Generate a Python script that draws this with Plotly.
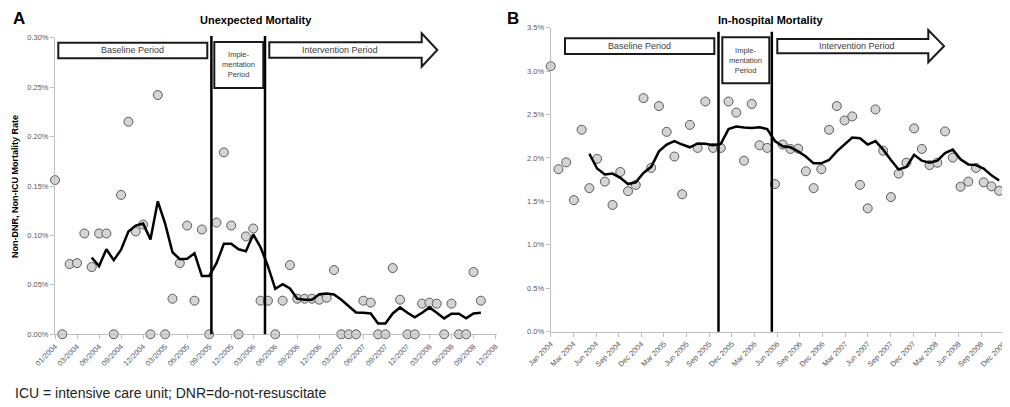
import plotly.graph_objects as go

# page is rendered with an 8px body margin; work in page pixels and shift
OFF = 8
W, H = 1010 - OFF, 407 - OFF

# ---------------- data ----------------
# Panel A: Unexpected mortality (%), monthly
rate_A = [0.156, 0, 0.071, 0.072, 0.102, 0.068, 0.102, 0.102, 0, 0.141,
          0.215, 0.104, 0.111, 0, 0.242, 0, 0.036, 0.072, 0.110, 0.034,
          0.106, 0, 0.113, 0.184, 0.110, 0, 0.099, 0.107, 0.034, 0.034,
          0, 0.034, 0.070, 0.036, 0.036, 0.036, 0.035, 0.037, 0.065, 0,
          0, 0, 0.034, 0.032, 0, 0, 0.067, 0.035, 0, 0,
          0.031, 0.032, 0.031, 0, 0.031, 0, 0, 0.063, 0.034]
ma_start_A = 5
ma_A = [0.0775, 0.069, 0.086, 0.075, 0.0855, 0.104, 0.110, 0.112, 0.096, 0.1345,
        0.112, 0.083, 0.076, 0.0765, 0.082, 0.059, 0.059, 0.072, 0.0915, 0.0915,
        0.086, 0.084, 0.101, 0.088, 0.069, 0.046, 0.0507, 0.0463, 0.036, 0.035,
        0.035, 0.0406, 0.0413, 0.0403, 0.035, 0.0288, 0.022, 0.0218, 0.0211, 0.011,
        0.011, 0.0211, 0.0272, 0.0218, 0.0171, 0.0218, 0.0272, 0.0218, 0.0161, 0.0208,
        0.0208, 0.0161, 0.0211, 0.0218]
ticks_A = ["01/2004", "03/2004", "06/2004", "09/2004", "12/2004", "03/2005", "06/2005",
           "09/2005", "12/2005", "03/2006", "06/2006", "09/2006", "12/2006", "03/2007",
           "06/2007", "09/2007", "12/2007", "03/2008", "06/2008", "09/2008", "12/2008"]
bounds_A = [21.3, 28.6]

# Panel B: In-hospital mortality (%), monthly
rate_B = [3.057, 1.871, 1.95, 1.515, 2.325, 1.653, 1.99, 1.728, 1.459, 1.839,
          1.618, 1.69, 2.689, 1.886, 2.598, 2.301, 2.017, 1.582, 2.381, 2.116,
          2.65, 2.116, 2.116, 2.65, 2.523, 1.969, 2.622, 2.147, 2.116, 1.70,
          2.155, 2.104, 2.108, 1.847, 1.653, 1.871, 2.325, 2.598, 2.432, 2.479,
          1.69, 1.42, 2.559, 2.084, 1.55, 1.82, 1.945, 2.341, 2.104, 1.918,
          1.945, 2.306, 2.005, 1.669, 1.728, 1.886, 1.72, 1.673, 1.622]
ma_start_B = 5
ma_B = [2.049, 1.879, 1.811, 1.82, 1.772, 1.70, 1.72, 1.827, 1.898, 2.076,
        2.155, 2.195, 2.155, 2.123, 2.167, 2.163, 2.147, 2.163, 2.333, 2.361,
        2.35, 2.345, 2.353, 2.333, 2.195, 2.135, 2.123, 2.076, 2.017, 1.938,
        1.938, 1.977, 2.076, 2.155, 2.235, 2.227, 2.155, 2.195, 2.096, 1.977,
        1.867, 1.898, 2.037, 1.969, 1.945, 1.969, 2.057, 2.096, 1.985, 1.926,
        1.918, 1.879, 1.80, 1.74]
ticks_B = ["Jan 2004", "Mar 2004", "Jun 2004", "Sep 2004", "Dec 2004", "Mar 2005", "Jun 2005",
           "Sep 2005", "Dec 2005", "Mar 2006", "Jun 2006", "Sep 2006", "Dec 2006", "Mar 2007",
           "Jun 2007", "Sep 2007", "Dec 2007", "Mar 2008", "Jun 2008", "Sep 2008", "Dec 2008"]
bounds_B = [21.7, 28.6]

# ---------------- helpers ----------------
def px(x):
    return (x - OFF) / W

def py(y):
    return 1 - (y - OFF) / H

FONT = "Liberation Sans"
AX_GRAY = "#bfbfbf"
TICK_FONT = dict(family=FONT, size=7.5, color="#595959")
marker = dict(size=9, color="#d4d4d4", line=dict(color="#5a5a5a", width=1))
line_style = dict(color="black", width=2.5)

fig = go.Figure()

xa = list(range(len(rate_A)))
xb = list(range(len(rate_B)))

fig.add_trace(go.Scatter(x=xa, y=rate_A, mode="markers", marker=marker,
                         cliponaxis=False, xaxis="x", yaxis="y", showlegend=False))
fig.add_trace(go.Scatter(x=list(range(ma_start_A, ma_start_A + len(ma_A))), y=ma_A,
                         mode="lines", line=line_style, xaxis="x", yaxis="y", showlegend=False))
fig.add_trace(go.Scatter(x=xb, y=rate_B, mode="markers", marker=marker,
                         cliponaxis=False, xaxis="x2", yaxis="y2", showlegend=False))
fig.add_trace(go.Scatter(x=list(range(ma_start_B, ma_start_B + len(ma_B))), y=ma_B,
                         mode="lines", line=line_style, xaxis="x2", yaxis="y2", showlegend=False))

common_x = dict(showline=True, linecolor=AX_GRAY, linewidth=1, ticks="outside", ticklen=4,
                tickcolor=AX_GRAY, showgrid=False, zeroline=False, tickangle=-45,
                tickfont=TICK_FONT, tickmode="array", automargin=False,
                ticklabeloverflow="allow")
common_y = dict(showline=True, linecolor=AX_GRAY, linewidth=1, ticks="outside", ticklen=4,
                tickcolor=AX_GRAY, showgrid=False, zeroline=False, tickfont=TICK_FONT,
                ticksuffix="%", automargin=False)

step_A = 3
step_B = 2.93
fig.update_layout(
    width=W, height=H, margin=dict(l=0, r=0, t=0, b=0, pad=0),
    paper_bgcolor="white", plot_bgcolor="white",
    xaxis=dict(common_x, domain=[px(55), px(497)], range=[0, 60.2],
               tickvals=[i * step_A for i in range(len(ticks_A))], ticktext=ticks_A,
               anchor="y"),
    yaxis=dict(common_y, domain=[py(334.3), py(37.7)], range=[0, 0.30], dtick=0.05,
               tickformat=".2f", anchor="x"),
    xaxis2=dict(common_x, domain=[px(550.7), 1.0], range=[0, 59.4],
                tickvals=[i * step_B for i in range(len(ticks_B))], ticktext=ticks_B,
                anchor="y2"),
    yaxis2=dict(common_y, domain=[py(331.7), py(27.7)], range=[0, 3.5], dtick=0.5,
                tickformat=".1f", anchor="x2"),
)

shapes = []
annots = []

# period boundary lines
for b in bounds_A:
    shapes.append(dict(type="line", xref="x", yref="paper", x0=b, x1=b,
                       y0=py(334.3), y1=py(36), line=dict(color="black", width=2.5)))
for b in bounds_B:
    shapes.append(dict(type="line", xref="x2", yref="paper", x0=b, x1=b,
                       y0=py(331.7), y1=py(31.7), line=dict(color="black", width=2.5)))

box_line = dict(color="#1a1a1a", width=2)

def box(x0, y0, x1, y1):
    shapes.append(dict(type="rect", xref="paper", yref="paper",
                       x0=px(x0), x1=px(x1), y0=py(y1), y1=py(y0),
                       line=box_line, fillcolor="white"))

def arrow(x0, y0, x1, y1, hx, ht, hb, tip_x):
    ym = (y0 + y1) / 2
    pts = [(x0, y0), (hx, y0), (hx, ht), (tip_x, ym), (hx, hb), (hx, y1), (x0, y1)]
    path = "M " + " L ".join(f"{px(a):.5f},{py(b):.5f}" for a, b in pts) + " Z"
    shapes.append(dict(type="path", xref="paper", yref="paper", path=path,
                       line=box_line, fillcolor="white"))

def label(x, y, text, size=9, color="#404040"):
    annots.append(dict(xref="paper", yref="paper", x=px(x), y=py(y), text=text,
                       showarrow=False, xanchor="center", yanchor="middle",
                       font=dict(family=FONT, size=size, color=color)))

# Panel A boxes
box(58.3, 42.7, 207.3, 58.3)
label(132.8, 50.5, "Baseline Period")
box(214.3, 42, 263.3, 88)
label(238.8, 65, "Imple-<br>mentation<br>Period", size=7.5)
arrow(269.3, 42.3, 421.7, 57.7, 421.7, 33.3, 66.7, 437.3)
label(340, 50, "Intervention Period")

# Panel B boxes
box(565, 38.3, 714.3, 54)
label(639.6, 46.2, "Baseline Period")
box(722.3, 37.3, 769.3, 83.3)
label(745.8, 60.3, "Imple-<br>mentation<br>Period", size=7.5)
arrow(777.3, 39, 928.3, 53.3, 928.3, 30, 62.3, 944)
label(857, 46.2, "Intervention Period")

# titles and panel letters
def txt(x, y, text, size, color="black", anchor="center", angle=0):
    annots.append(dict(xref="paper", yref="paper", x=px(x), y=py(y), text=text,
                       showarrow=False, xanchor=anchor, yanchor="middle", textangle=angle,
                       font=dict(family=FONT, size=size, color=color)))

txt(256, 20, "<b>Unexpected Mortality</b>", 11)
txt(770, 20, "<b>In-hospital Mortality</b>", 11)
txt(19, 18, "<b>A</b>", 17)
txt(513, 18, "<b>B</b>", 17)
txt(15, 187, "<b>Non-DNR, Non-ICU Mortality Rate</b>", 9, angle=-90)
txt(13, 393, "ICU = intensive care unit; DNR=do-not-resuscitate", 14, color="#222222", anchor="left")

fig.update_layout(shapes=shapes, annotations=annots)
fig.write_html("out.html")
